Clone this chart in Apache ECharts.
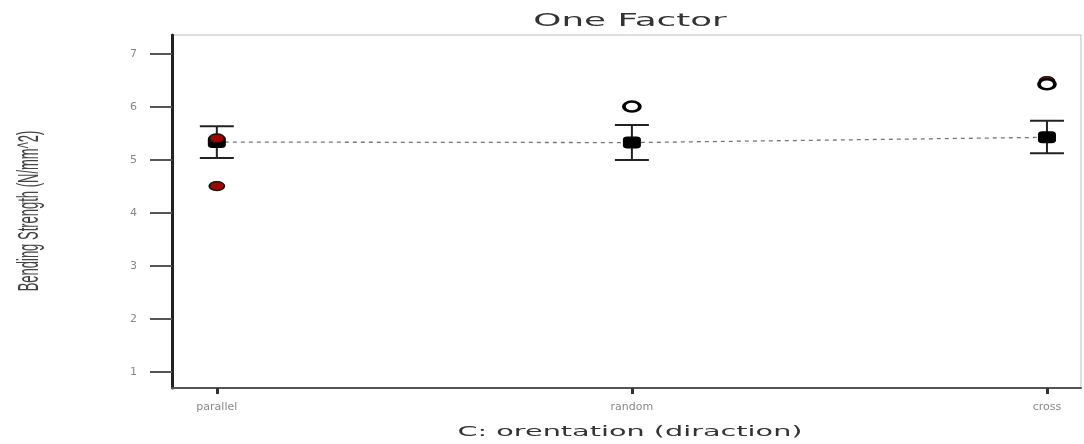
<!DOCTYPE html>
<html><head><meta charset="utf-8">
<script src="https://cdn.jsdelivr.net/npm/echarts@6/dist/echarts.min.js"></script>
<style>html,body{margin:0;padding:0;background:#fff}#c{width:1084px;height:444px}</style>
</head><body><div id="c"></div>
<script>
var categories = ['parallel', 'random', 'cross'];
var yTicks = [1, 2, 3, 4, 5, 6, 7];
var means = [5.34, 5.33, 5.43];
var upper = [5.64, 5.66, 5.74];
var lower = [5.04, 5.00, 5.13];
var redPoints = [[0, 5.41], [0, 4.51], [2, 6.49]];
var openPoints = [[1, 6.01], [2, 6.43]];
var titleText = 'One Factor';
var xName = 'C: orentation (diraction)';
var yName = 'Bending Strength (N/mm^2)';

var chart = echarts.init(document.getElementById('c'));
var catIdx = categories.map(function (c, i) { return i; });
chart.setOption({
  animation: false,
  graphic: [
    { type: 'text', x: 630, y: 22, scaleX: 2.1, z: 10,
      style: { text: titleText, x: 0, y: 0, align: 'center', verticalAlign: 'middle',
        font: '17px "DejaVu Sans"', fill: '#333' } },
    { type: 'text', x: 630, y: 432, scaleX: 2.05, z: 10,
      style: { text: xName, x: 0, y: 0, align: 'center', verticalAlign: 'middle',
        font: '14px "DejaVu Sans"', fill: '#333' } },
    { type: 'text', x: 30, y: 211, rotation: Math.PI / 2, scaleY: 2.2, z: 10,
      style: { text: yName, x: 0, y: 0, align: 'center', verticalAlign: 'middle',
        font: '13px "Liberation Sans"', fill: '#444' } }
  ],
  grid: { left: 172, top: 35, right: 3, bottom: 56, show: true, borderColor: '#bbb', borderWidth: 1 },
  xAxis: {
    type: 'value', min: -0.108, max: 2.082,
    axisLine: { show: true, onZero: false, lineStyle: { color: '#555', width: 2 } },
    axisTick: { show: true, length: 6, lineStyle: { color: '#333', width: 3 }, customValues: catIdx },
    axisLabel: {
      customValues: catIdx, margin: 14, fontFamily: 'DejaVu Sans', fontSize: 11, color: '#888',
      formatter: function (v) { return categories[Math.round(v)]; }
    },
    splitLine: { show: false }
  },
  yAxis: {
    type: 'value', min: 0.70, max: 7.36,
    axisLine: { show: true, onZero: false, lineStyle: { color: '#222', width: 3 } },
    axisTick: { show: true, length: 22, customValues: yTicks, lineStyle: { color: '#555', width: 2 } },
    axisLabel: { customValues: yTicks, margin: 35, fontFamily: 'DejaVu Sans', fontSize: 11, color: '#888' },
    splitLine: { show: false }
  },
  series: [
    {
      type: 'line', data: catIdx.map(function (i) { return [i, means[i]]; }),
      symbol: 'none', lineStyle: { type: [4, 4], color: '#777', width: 1.3 }, z: 1
    },
    {
      type: 'custom', z: 2,
      data: catIdx.map(function (i) { return [i, lower[i], upper[i]]; }),
      renderItem: function (params, api) {
        var x = api.value(0);
        var lo = api.coord([x, api.value(1)]);
        var hi = api.coord([x, api.value(2)]);
        var hw = 17;
        var st = { stroke: '#222', lineWidth: 2 };
        return {
          type: 'group', children: [
            { type: 'line', shape: { x1: lo[0], y1: lo[1], x2: hi[0], y2: hi[1] }, style: st },
            { type: 'line', shape: { x1: lo[0] - hw, y1: lo[1], x2: lo[0] + hw, y2: lo[1] }, style: st },
            { type: 'line', shape: { x1: hi[0] - hw, y1: hi[1], x2: hi[0] + hw, y2: hi[1] }, style: st }
          ]
        };
      }
    },
    {
      type: 'scatter', z: 3, data: catIdx.map(function (i) { return [i, means[i]]; }),
      symbol: 'roundRect', symbolSize: [18, 12], itemStyle: { color: '#000', opacity: 1 }
    },
    {
      type: 'scatter', z: 4, data: redPoints,
      symbol: 'circle', symbolSize: [15, 9], itemStyle: { color: '#a00000', borderColor: '#111', borderWidth: 1.5, opacity: 1 }
    },
    {
      type: 'scatter', z: 5, data: openPoints,
      symbol: 'circle', symbolSize: [16, 10], itemStyle: { color: '#fff', borderColor: '#000', borderWidth: 3, opacity: 1 }
    }
  ]
});
</script></body></html>
